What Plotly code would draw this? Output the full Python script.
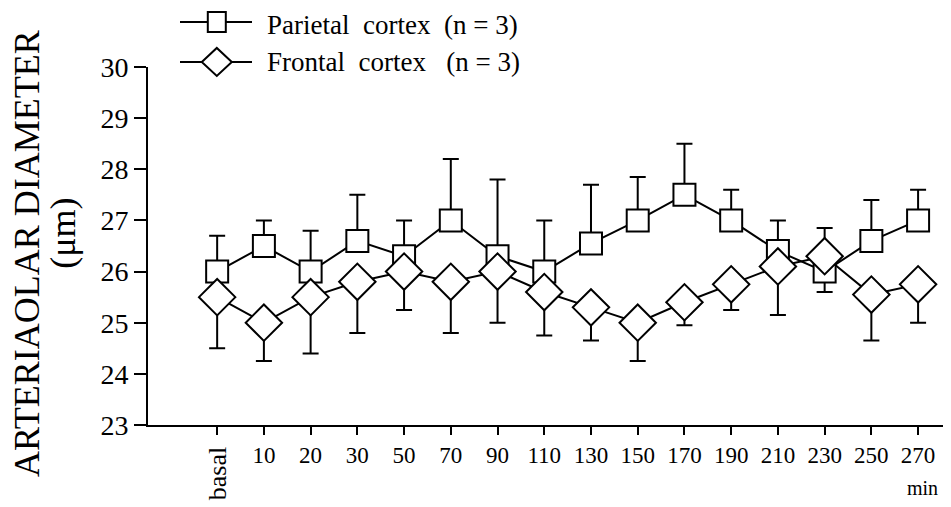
import plotly.graph_objs as go

# time points (min)
categories = ["basal", "10", "20", "30", "50", "70", "90", "110", "130",
              "150", "170", "190", "210", "230", "250", "270"]

# Parietal cortex (n = 3): mean and SEM
parietal_mean = [26.0, 26.5, 26.0, 26.6, 26.3, 27.0, 26.3, 26.0, 26.55,
                 27.0, 27.5, 27.0, 26.4, 26.0, 26.6, 27.0]
parietal_up = [0.7, 0.5, 0.8, 0.9, 0.7, 1.2, 1.5, 1.0, 1.15,
               0.85, 1.0, 0.6, 0.6, 0.0, 0.8, 0.6]
parietal_down = [0, 0, 0, 0, 0, 0, 0, 0, 0,
                 0, 0, 0, 0, 0.4, 0, 0]

# Frontal cortex (n = 3)
frontal_mean = [25.5, 25.0, 25.5, 25.8, 26.0, 25.8, 26.0, 25.6, 25.3,
                25.0, 25.4, 25.75, 26.1, 26.3, 25.55, 25.75]
frontal_up = [0, 0, 0, 0, 0, 0, 0, 0, 0,
              0, 0, 0, 0, 0.55, 0, 0]
frontal_down = [1.0, 0.75, 1.1, 1.0, 0.75, 1.0, 1.0, 0.85, 0.65,
                0.75, 0.45, 0.5, 0.95, 0, 0.9, 0.75]

series_names = ["Parietal  cortex  (n = 3)", "Frontal  cortex   (n = 3)"]

font_name = "Liberation Serif"
idx = list(range(len(categories)))

fig = go.Figure()

fig.add_trace(go.Scatter(
    x=idx, y=parietal_mean, mode="lines+markers",
    name=series_names[0],
    line=dict(color="black", width=2),
    marker=dict(symbol="square", size=22, color="white",
                line=dict(color="black", width=2)),
    error_y=dict(type="data", symmetric=False, array=parietal_up,
                 arrayminus=parietal_down, color="black", thickness=2, width=8),
))

fig.add_trace(go.Scatter(
    x=idx, y=frontal_mean, mode="lines+markers",
    name=series_names[1],
    line=dict(color="black", width=2),
    marker=dict(symbol="diamond", size=28, color="white",
                line=dict(color="black", width=2)),
    error_y=dict(type="data", symmetric=False, array=frontal_up,
                 arrayminus=frontal_down, color="black", thickness=2, width=8),
))

ticktext = [""] + categories[1:]

fig.update_xaxes(
    range=[-1.48, 15.64], tickmode="array", tickvals=idx, ticktext=ticktext,
    showline=True, linecolor="black", linewidth=2,
    ticks="outside", ticklen=8, tickwidth=2, tickcolor="black",
    showgrid=False, zeroline=False, tickangle=0,
    tickfont=dict(family=font_name, size=23, color="black"),
)
fig.update_yaxes(
    range=[23, 30], dtick=1,
    showline=True, linecolor="black", linewidth=2,
    ticks="outside", ticklen=12, tickwidth=2, tickcolor="black",
    showgrid=False, zeroline=False,
    tickfont=dict(family=font_name, size=28, color="black"),
)

# rotated "basal" label and axis titles
fig.add_annotation(x=0, y=-0.137, xref="x", yref="paper", text="basal",
                   textangle=-90, showarrow=False, xanchor="center", yanchor="middle",
                   font=dict(family=font_name, size=26, color="black"))
fig.add_annotation(x=15.1, y=-0.175, xref="x", yref="paper", text="min",
                   showarrow=False, xanchor="center", yanchor="middle",
                   font=dict(family=font_name, size=20, color="black"))
fig.add_annotation(x=-0.151, y=0.478, xref="paper", yref="paper",
                   text="ARTERIAOLAR DIAMETER", textangle=-90, showarrow=False,
                   xanchor="center", yanchor="middle",
                   font=dict(family=font_name, size=36, color="black"))
fig.add_annotation(x=-0.106, y=0.535, xref="paper", yref="paper",
                   text="(μm)", textangle=-90, showarrow=False,
                   xanchor="center", yanchor="middle",
                   font=dict(family=font_name, size=36, color="black"))

# hand-drawn legend above the plot (a real legend pushes the margins)
legend_y = [1.126, 1.014]
legend_text_y = [1.117, 1.014]
sym_x = 0.086
for i, ly in enumerate(legend_y):
    fig.add_shape(type="line", xref="paper", yref="paper",
                  x0=0.04, x1=0.13, y0=ly, y1=ly,
                  line=dict(color="black", width=2), layer="above")
    if i == 0:
        sym_path = "M -9 -10 L 9 -10 L 9 10 L -9 10 Z"
    else:
        sym_path = "M -15 0 L 0 14 L 15 0 L 0 -14 Z"
    fig.add_shape(type="path", xref="paper", yref="paper",
                  xsizemode="pixel", ysizemode="pixel",
                  xanchor=sym_x, yanchor=ly, path=sym_path,
                  fillcolor="white", line=dict(color="black", width=2),
                  layer="above")
    fig.add_annotation(x=0.146, y=legend_text_y[i], xref="paper", yref="paper",
                       text=series_names[i], showarrow=False,
                       xanchor="left", yanchor="middle",
                       font=dict(family=font_name, size=27, color="black"))

# the page body adds an 8px offset, so the figure is 8px smaller
fig.update_layout(
    width=943, height=499,
    margin=dict(l=140, r=3, t=59, b=82),
    plot_bgcolor="white", paper_bgcolor="white",
    showlegend=False,
)

fig.write_html("out.html")
